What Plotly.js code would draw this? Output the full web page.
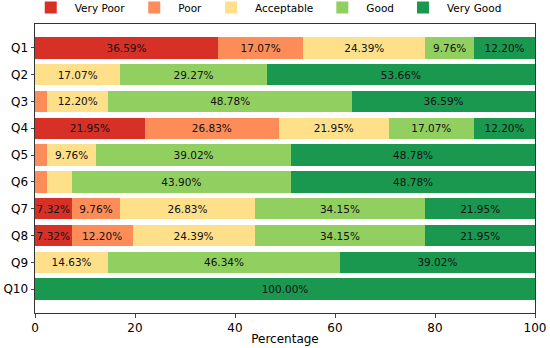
<!DOCTYPE html>
<html><head><meta charset="utf-8">
<script src="https://cdn.plot.ly/plotly-3.0.1.min.js"></script>
<style>body{margin:0;padding:0;background:#fff}#chart{width:550px;height:348px}</style>
</head><body><div id="chart"></div>
<script>
const questions = ["Q1","Q2","Q3","Q4","Q5","Q6","Q7","Q8","Q9","Q10"];
const categories = ["Very Poor","Poor","Acceptable","Good","Very Good"];
const veryPoor   = [36.59, 0, 0, 21.95, 0, 0, 7.32, 7.32, 0, 0];
const poor       = [17.07, 0, 2.44, 26.83, 2.44, 2.44, 9.76, 12.20, 0, 0];
const acceptable = [24.39, 17.07, 12.20, 21.95, 9.76, 4.88, 26.83, 24.39, 14.63, 0];
const good       = [9.76, 29.27, 48.78, 17.07, 39.02, 43.90, 34.15, 34.15, 46.34, 0];
const veryGood   = [12.20, 53.66, 36.59, 12.20, 48.78, 48.78, 21.95, 21.95, 39.02, 100.00];
const colors = ["#d73027","#fc8d59","#fee08b","#91cf60","#1a9850"];
const series = [veryPoor, poor, acceptable, good, veryGood];

const traces = series.map((vals, i) => ({
  type: 'bar', orientation: 'h', name: categories[i],
  x: vals, y: questions,
  marker: {color: colors[i], line: {width: 0}},
  text: vals.map(v => v >= 5 ? v.toFixed(2) + '%' : ''),
  textposition: 'inside', insidetextanchor: 'middle', constraintext: 'none',
  textfont: {family: 'DejaVu Sans', size: 10.5, color: '#111'},
  hoverinfo: 'x+y'
}));

const layout = {
  width: 550, height: 348,
  margin: {l: 35, r: 15, t: 24, b: 35, autoexpand: false},
  barmode: 'stack', bargap: 0.2,
  paper_bgcolor: '#fff', plot_bgcolor: '#fff',
  font: {family: 'DejaVu Sans', size: 12, color: '#000'},
  showlegend: true,
  legend: {orientation: 'h', x: 0.485, xanchor: 'center', xref: 'container',
           y: 1.057, yanchor: 'middle', yref: 'paper', bgcolor: 'rgba(0,0,0,0)',
           font: {size: 10.5}, traceorder: 'normal', itemwidth: 38},
  xaxis: {range: [0, 100], tickvals: [0,20,40,60,80,100], ticks: 'outside', ticklen: 3.5,
          showgrid: false, zeroline: false, showline: true, linecolor: '#333', mirror: true,
          tickfont: {size: 12}, title: {text: 'Percentage', font: {size: 12}, standoff: 0}},
  yaxis: {type: 'category', range: [9.89, -0.89], ticks: 'outside', ticklen: 3.5,
          showgrid: false, zeroline: false, showline: true, linecolor: '#333', mirror: true,
          tickfont: {size: 12}}
};
Plotly.newPlot('chart', traces, layout, {displayModeBar: false, staticPlot: true});
</script></body></html>
